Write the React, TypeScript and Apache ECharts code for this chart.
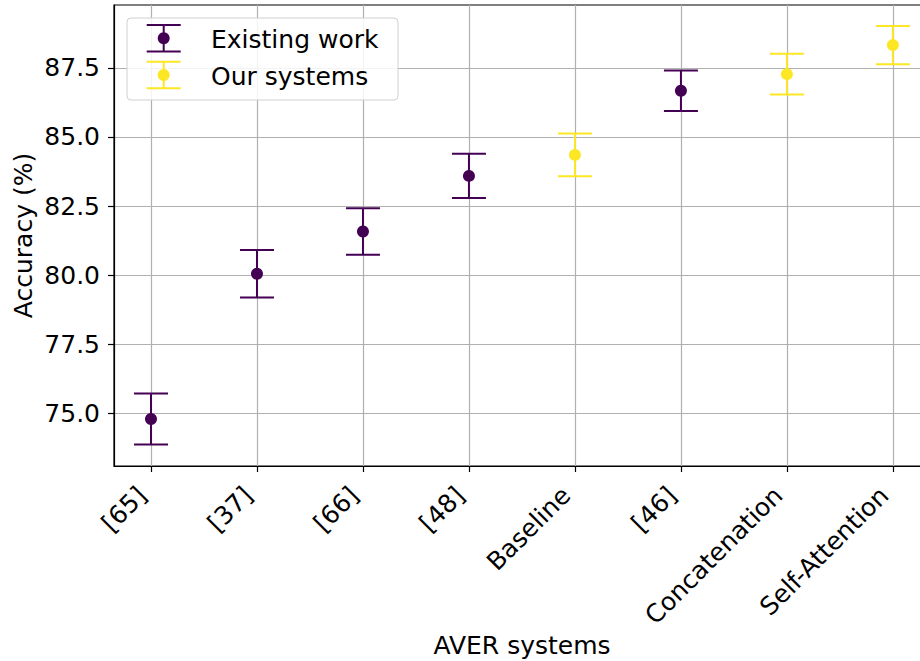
import React, { useEffect, useRef } from 'react';
import * as echarts from 'echarts';

const categories = ['[65]', '[37]', '[66]', '[48]', 'Baseline', '[46]', 'Concatenation', 'Self-Attention'];
const accuracy = [74.8, 80.05, 81.58, 83.59, 84.35, 86.67, 87.27, 88.32];
const errors = [0.92, 0.86, 0.84, 0.8, 0.77, 0.73, 0.74, 0.69];
const isOurs = [false, false, false, false, true, false, true, true];
const yTicks = [75, 77.5, 80, 82.5, 85, 87.5];
const legendNames = ['Existing work', 'Our systems'];

const PURPLE = '#440154';
const YELLOW = '#fde725';
const FONT = 'DejaVu Sans';
const FS = 25;

function groupData(ours: boolean) {
  const out: number[][] = [];
  categories.forEach((_, i) => {
    if (isOurs[i] === ours) out.push([i, accuracy[i], accuracy[i] - errors[i], accuracy[i] + errors[i]]);
  });
  return out;
}

function errSeries(name: string, color: string, data: number[][]) {
  return {
    type: 'custom',
    name,
    data,
    encode: { x: 0, y: 1 },
    z: 3,
    renderItem: (params: any, api: any) => {
      const x = api.value(0);
      const lo = api.coord([x, api.value(2)]);
      const hi = api.coord([x, api.value(3)]);
      const cap = 17;
      const style = { stroke: color, lineWidth: 2, fill: 'none' };
      return {
        type: 'group',
        children: [
          { type: 'line', shape: { x1: lo[0], y1: lo[1], x2: hi[0], y2: hi[1] }, style },
          { type: 'line', shape: { x1: lo[0] - cap, y1: lo[1], x2: lo[0] + cap, y2: lo[1] }, style },
          { type: 'line', shape: { x1: hi[0] - cap, y1: hi[1], x2: hi[0] + cap, y2: hi[1] }, style },
        ],
      };
    },
  };
}

function pointSeries(name: string, color: string, data: number[][]) {
  return {
    type: 'scatter',
    name,
    data: data.map((d) => [d[0], d[1]]),
    symbol: 'circle',
    symbolSize: 12,
    z: 4,
    itemStyle: { color, opacity: 1 },
  };
}

function legendEntry(cx: number, cy: number, color: string, label: string) {
  const style = { stroke: color, lineWidth: 2 };
  return [
    { type: 'line', z: 101, shape: { x1: cx, y1: cy - 13.3, x2: cx, y2: cy + 13.3 }, style },
    { type: 'line', z: 101, shape: { x1: cx - 17, y1: cy - 13.3, x2: cx + 17, y2: cy - 13.3 }, style },
    { type: 'line', z: 101, shape: { x1: cx - 17, y1: cy + 13.3, x2: cx + 17, y2: cy + 13.3 }, style },
    { type: 'circle', z: 102, shape: { cx, cy, r: 6 }, style: { fill: color } },
    {
      type: 'text',
      z: 102,
      x: 211,
      y: cy + 1.5,
      style: { text: label, font: `${FS}px "${FONT}"`, fill: '#000', verticalAlign: 'middle', align: 'left' },
    },
  ];
}

export default function App() {
  const ref = useRef<HTMLDivElement>(null);
  useEffect(() => {
    if (!ref.current) return;
    const chart = echarts.init(ref.current, null, { renderer: 'svg' });
    const existing = groupData(false);
    const ours = groupData(true);
    const xVals = categories.map((_, i) => i);
    chart.setOption({
      animation: false,
      backgroundColor: '#fff',
      textStyle: { fontFamily: FONT },
      grid: {
        left: 114,
        top: 5,
        width: 816,
        height: 461,
        show: true,
        borderColor: '#000',
        borderWidth: 1.2,
        containLabel: false,
        outerBoundsMode: 'none',
      },
      xAxis: {
        type: 'value',
        min: -0.349,
        max: 7.35,
        name: 'AVER systems',
        nameLocation: 'middle',
        nameGap: 166,
        nameMoveOverlap: false,
        nameTextStyle: { fontSize: FS, color: '#000', fontFamily: FONT, lineHeight: 27 },
        axisLine: { show: true, onZero: false, lineStyle: { color: '#000', width: 1.2 } },
        axisTick: { show: true, customValues: xVals, length: 6, lineStyle: { color: '#000', width: 1.2 } },
        axisLabel: {
          customValues: xVals,
          formatter: (v: number) => categories[Math.round(v)] ?? '',
          rotate: 45,
          margin: 34,
          verticalAlign: 'bottom',
          fontSize: FS,
          color: '#000',
          fontFamily: FONT,
        },
        splitLine: { show: true, lineStyle: { color: '#b0b0b0', width: 1.2 } },
      },
      yAxis: {
        type: 'value',
        min: 73.1,
        max: 89.77,
        name: 'Accuracy (%)',
        nameLocation: 'middle',
        nameGap: 78,
        nameMoveOverlap: false,
        nameTextStyle: { fontSize: FS, color: '#000', fontFamily: FONT },
        axisLine: { show: true, onZero: false, lineStyle: { color: '#000', width: 1.2 } },
        axisTick: { show: true, customValues: yTicks, length: 6, lineStyle: { color: '#000', width: 1.2 } },
        axisLabel: {
          customValues: yTicks,
          formatter: (v: number) => v.toFixed(1),
          margin: 14,
          fontSize: FS,
          color: '#000',
          fontFamily: FONT,
        },
        splitLine: { show: true, lineStyle: { color: '#b0b0b0', width: 1.2 } },
      },
      series: [
        errSeries(legendNames[0], PURPLE, existing),
        errSeries(legendNames[1], YELLOW, ours),
        pointSeries(legendNames[0], PURPLE, existing),
        pointSeries(legendNames[1], YELLOW, ours),
      ],
      graphic: [
        {
          type: 'rect',
          z: 100,
          shape: { x: 127, y: 18, width: 271, height: 82, r: 4 },
          style: { fill: 'rgba(255,255,255,0.85)', stroke: '#d0d0d0', lineWidth: 1 },
        },
        ...legendEntry(163.7, 38.3, PURPLE, legendNames[0]),
        ...legendEntry(163.7, 75, YELLOW, legendNames[1]),
      ],
    });
    return () => chart.dispose();
  }, []);
  return (
    <div style={{ position: 'fixed', left: 0, top: 0, width: 920, height: 661, overflow: 'hidden' }}>
      <div ref={ref} style={{ width: 930, height: 661 }} />
    </div>
  );
}
